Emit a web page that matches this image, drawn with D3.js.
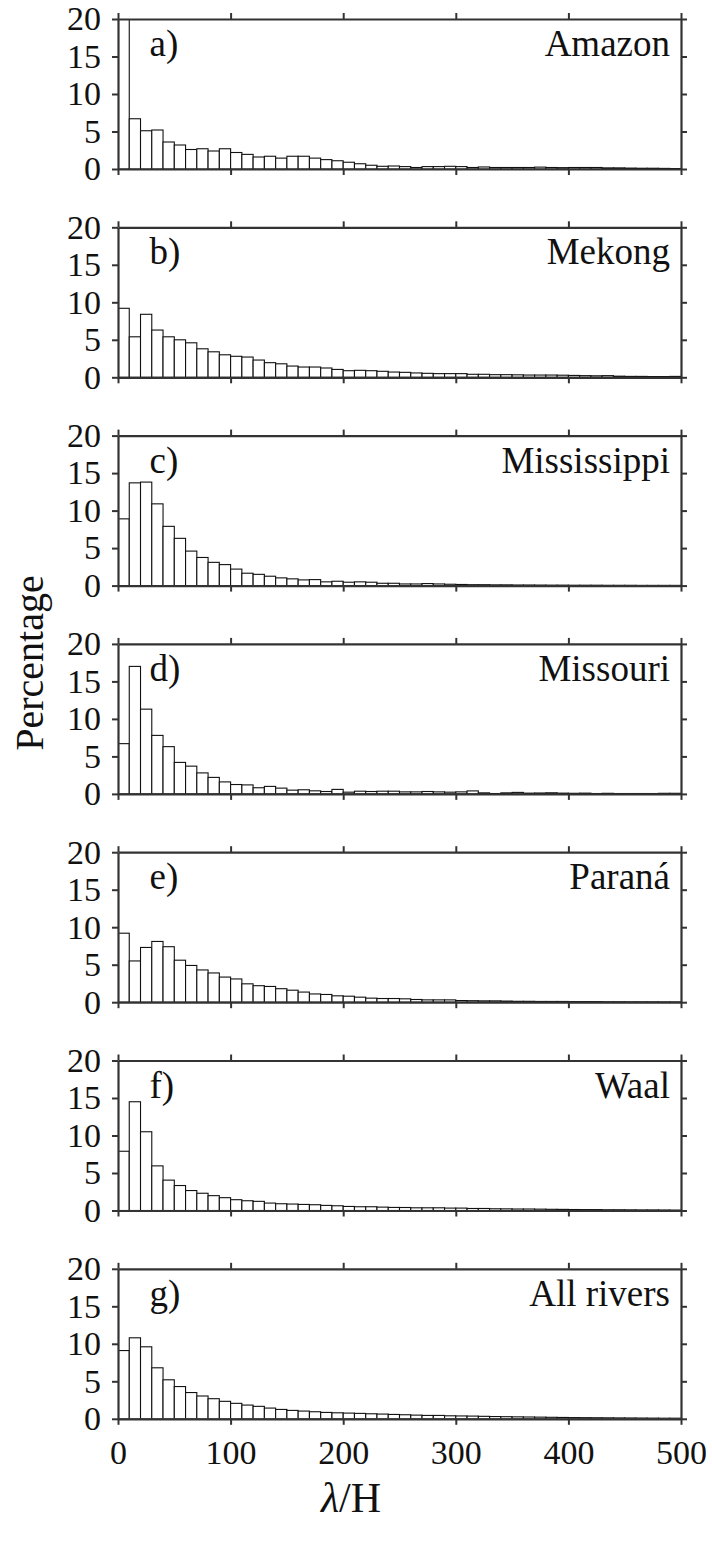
<!DOCTYPE html>
<html>
<head>
<meta charset="utf-8">
<script src="https://cdn.jsdelivr.net/npm/d3@7"></script>
<style>
  body { margin: 0; background: #fff; }
  svg { display: block; }
  text { font-family: "Liberation Serif", "DejaVu Serif", serif; fill: #111; }
</style>
</head>
<body>
<svg id="svg1" width="712" height="1545"></svg>
<script>
// histogram bins: width 10 from 0 to 500
var binEdges = d3.range(0, 500, 10);

var xTicks = [0, 100, 200, 300, 400, 500];
var yTicks = [0, 5, 10, 15, 20];

var panelLetters = ['a)', 'b)', 'c)', 'd)', 'e)', 'f)', 'g)'];
var riverNames = ['Amazon', 'Mekong', 'Mississippi', 'Missouri', 'Paraná', 'Waal', 'All rivers'];

var amazon = [27, 6.7, 5.1, 5.2, 3.6, 3.2, 2.6, 2.7, 2.4, 2.7, 2.2, 1.95, 1.6, 1.7, 1.45, 1.7, 1.7, 1.45, 1.25, 1.1,
  0.9, 0.7, 0.5, 0.36, 0.4, 0.32, 0.2, 0.32, 0.32, 0.36, 0.32, 0.2, 0.27, 0.2, 0.2, 0.2, 0.2, 0.25, 0.2, 0.18,
  0.2, 0.2, 0.2, 0.15, 0.15, 0.12, 0.1, 0.1, 0.08, 0.06];
var mekong = [9.2, 5.4, 8.4, 6.3, 5.4, 5.0, 4.6, 3.8, 3.4, 3.0, 2.8, 2.7, 2.3, 1.95, 1.8, 1.5, 1.37, 1.37, 1.24, 1.05,
  0.88, 0.93, 0.88, 0.8, 0.7, 0.66, 0.58, 0.53, 0.49, 0.49, 0.49, 0.4, 0.4, 0.35, 0.35, 0.33, 0.3, 0.3, 0.3, 0.28,
  0.25, 0.22, 0.2, 0.22, 0.15, 0.12, 0.12, 0.1, 0.1, 0.12];
var mississippi = [8.9, 13.7, 13.8, 10.9, 7.9, 6.3, 4.6, 3.75, 3.1, 2.8, 2.2, 1.65, 1.5, 1.25, 1.03, 0.9, 0.76, 0.8, 0.5, 0.58,
  0.45, 0.5, 0.45, 0.31, 0.31, 0.22, 0.22, 0.27, 0.22, 0.18, 0.15, 0.12, 0.12, 0.1, 0.1, 0.08, 0.08, 0.07, 0.06, 0.06,
  0.05, 0.05, 0.05, 0.04, 0.04, 0.04, 0.03, 0.03, 0.03, 0.03];
var missouri = [6.7, 17.0, 11.3, 7.8, 6.3, 4.2, 3.7, 2.8, 2.2, 1.6, 1.25, 1.2, 0.82, 1.0, 0.77, 0.5, 0.55, 0.41, 0.32, 0.6,
  0.23, 0.36, 0.32, 0.36, 0.36, 0.27, 0.27, 0.32, 0.27, 0.23, 0.27, 0.4, 0.14, 0.05, 0.14, 0.2, 0.1, 0.12, 0.15, 0.1,
  0.08, 0.1, 0.05, 0.08, 0.05, 0.05, 0.05, 0.05, 0.08, 0.08];
var parana = [9.2, 5.5, 7.3, 8.1, 7.4, 5.6, 4.9, 4.3, 3.9, 3.35, 3.1, 2.45, 2.2, 2.1, 1.8, 1.6, 1.35, 1.1, 1.03, 0.85,
  0.8, 0.67, 0.54, 0.49, 0.49, 0.45, 0.36, 0.31, 0.31, 0.31, 0.22, 0.2, 0.18, 0.18, 0.15, 0.12, 0.12, 0.1, 0.1, 0.1,
  0.08, 0.08, 0.08, 0.06, 0.06, 0.05, 0.05, 0.05, 0.04, 0.04];
var waal = [7.9, 14.5, 10.5, 5.95, 4.05, 3.33, 2.66, 2.3, 1.98, 1.71, 1.44, 1.3, 1.22, 0.99, 0.9, 0.86, 0.81, 0.77, 0.68, 0.63,
  0.54, 0.5, 0.5, 0.45, 0.41, 0.4, 0.36, 0.36, 0.36, 0.32, 0.32, 0.27, 0.27, 0.23, 0.22, 0.2, 0.2, 0.18, 0.16, 0.15,
  0.13, 0.12, 0.12, 0.1, 0.1, 0.09, 0.08, 0.08, 0.07, 0.06];
var allRivers = [9.1, 10.8, 9.6, 6.8, 5.2, 4.3, 3.5, 3.04, 2.68, 2.33, 2.06, 1.83, 1.66, 1.43, 1.25, 1.12, 1.03, 0.94, 0.85, 0.8,
  0.76, 0.72, 0.67, 0.63, 0.58, 0.54, 0.49, 0.45, 0.45, 0.4, 0.38, 0.36, 0.33, 0.3, 0.28, 0.26, 0.24, 0.22, 0.2, 0.18,
  0.16, 0.15, 0.14, 0.13, 0.12, 0.11, 0.1, 0.09, 0.08, 0.08];

var allSeries = [amazon, mekong, mississippi, missouri, parana, waal, allRivers];

var marginLeft = 118;
var plotWidth = 563;
var plotHeight = 150;
var firstTop = 19;
var panelStep = 208.3;
var fontSize = 34;
var nameSize = 37;

var svg = d3.select('svg');

var x = d3.scaleLinear().domain([0, 500]).range([0, plotWidth]);
var y = d3.scaleLinear().domain([0, 20]).range([plotHeight, 0]);

allSeries.forEach(function(values, i) {
    var top = firstTop + i * panelStep;
    var g = svg.append('g')
        .attr('transform', 'translate(' + marginLeft + ',' + top + ')');

    // clip so the tall Amazon bar stops at 20
    g.append('clipPath').attr('id', 'clip' + i)
        .append('rect').attr('width', plotWidth).attr('height', plotHeight);

    g.append('g')
        .attr('clip-path', 'url(#clip' + i + ')')
        .selectAll('rect')
        .data(values)
        .enter().append('rect')
        .attr('x', function(d, j) { return x(binEdges[j]); })
        .attr('width', function(d, j) { return x(binEdges[j] + 10) - x(binEdges[j]); })
        .attr('y', function(d) { return y(d); })
        .attr('height', function(d) { return plotHeight - y(d); })
        .attr('fill', '#fff')
        .attr('stroke', '#111')
        .attr('stroke-width', 1.1);

    var isLast = (i === allSeries.length - 1);

    var axB = g.append('g').attr('transform', 'translate(0,' + plotHeight + ')')
        .call(d3.axisBottom(x).tickValues(xTicks).tickSize(6).tickSizeOuter(0).tickPadding(10)
            .tickFormat(isLast ? d3.format('d') : function() { return ''; }));
    var axT = g.append('g')
        .call(d3.axisTop(x).tickValues(xTicks).tickSize(6).tickSizeOuter(0).tickFormat(''));
    var axL = g.append('g')
        .call(d3.axisLeft(y).tickValues(yTicks).tickSize(6).tickSizeOuter(0).tickPadding(11));
    var axR = g.append('g').attr('transform', 'translate(' + plotWidth + ',0)')
        .call(d3.axisRight(y).tickValues(yTicks).tickSize(6).tickSizeOuter(0).tickFormat(''));

    [axB, axT, axL, axR].forEach(function(a) {
        a.select('.domain').attr('stroke', '#333').attr('stroke-width', 2.2);
        a.selectAll('.tick line').attr('stroke', '#333').attr('stroke-width', 2);
        a.selectAll('.tick text')
            .attr('font-family', '"Liberation Serif", serif')
            .attr('font-size', fontSize)
            .attr('fill', '#222');
    });
    axB.selectAll('.tick text').attr('dy', '0.85em');

    g.append('text')//panel letter
        .attr('x', x(28)).attr('y', 37)
        .attr('font-size', nameSize)
        .text(panelLetters[i]);

    g.append('text')//river name
        .attr('x', plotWidth - 11).attr('y', 37)
        .attr('text-anchor', 'end')
        .attr('font-size', nameSize)
        .text(riverNames[i]);
});

svg.append('text')
    .attr('transform', 'translate(43,663) rotate(-90)')
    .attr('text-anchor', 'middle')
    .attr('font-size', 40)
    .text('Percentage');

var xl = svg.append('text')
    .attr('x', 351).attr('y', 1512)
    .attr('text-anchor', 'middle')
    .attr('font-size', 42);
xl.append('tspan').attr('font-style', 'italic').text('λ');
xl.append('tspan').text('/H');
</script>
</body>
</html>
